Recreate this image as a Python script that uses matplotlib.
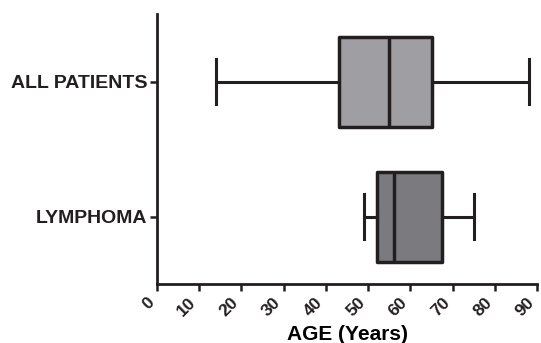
import matplotlib
matplotlib.use("Agg")
import matplotlib.pyplot as plt

# ── Data ──────────────────────────────────────────────────────────────────────
groups    = ["LYMPHOMA", "ALL PATIENTS"]
whislo    = [49, 14]
q1        = [52, 43]
med       = [56, 55]
q3        = [67.5, 65]
whishi    = [75, 88]
box_color = ["#7b7b7f", "#9f9ea3"]
x_ticks   = list(range(0, 100, 10))

EDGE = "#231f20"

plt.rcParams["font.family"] = ["Liberation Sans", "DejaVu Sans"]
plt.rcParams["font.weight"] = "bold"

fig = plt.figure(figsize=(5.41, 3.43), dpi=100)
ax = fig.add_axes([0.290, 0.172, 0.703, 0.787])

stats = [
    {"whislo": lo, "q1": a, "med": m, "q3": b, "whishi": hi, "fliers": [], "label": g}
    for g, lo, a, m, b, hi in zip(groups, whislo, q1, med, q3, whishi)
]
bp = ax.bxp(stats, positions=range(len(groups)), orientation="horizontal",
            widths=0.667, patch_artist=True, showfliers=False,
            boxprops=dict(linewidth=2.5, edgecolor=EDGE),
            medianprops=dict(linewidth=2.5, color=EDGE),
            whiskerprops=dict(linewidth=2.2, color=EDGE),
            capprops=dict(linewidth=2.2, color=EDGE),
            capwidths=0.33)
for patch, c in zip(bp["boxes"], box_color):
    patch.set_facecolor(c)
    patch.set_joinstyle("round")

ax.set_xlim(0, 90)
ax.set_ylim(-0.5, 1.5)
ax.set_xticks(x_ticks)
ax.set_xticklabels([str(t) for t in x_ticks], rotation=45, ha="right", va="top",
                   fontsize=12.5, fontweight="bold")
ax.set_yticks(range(len(groups)))
ax.set_yticklabels(groups, fontsize=14, fontweight="bold")
ax.set_xlabel("AGE (Years)", fontsize=15, fontweight="bold", labelpad=4)

for side in ("top", "right"):
    ax.spines[side].set_visible(False)
for side in ("left", "bottom"):
    ax.spines[side].set_linewidth(2)
    ax.spines[side].set_color(EDGE)
ax.tick_params(axis="both", width=1.8, length=5, color=EDGE, labelcolor=EDGE)
ax.tick_params(axis="y", pad=2)
ax.tick_params(axis="x", pad=3)

fig.savefig("out.png", dpi=100)
